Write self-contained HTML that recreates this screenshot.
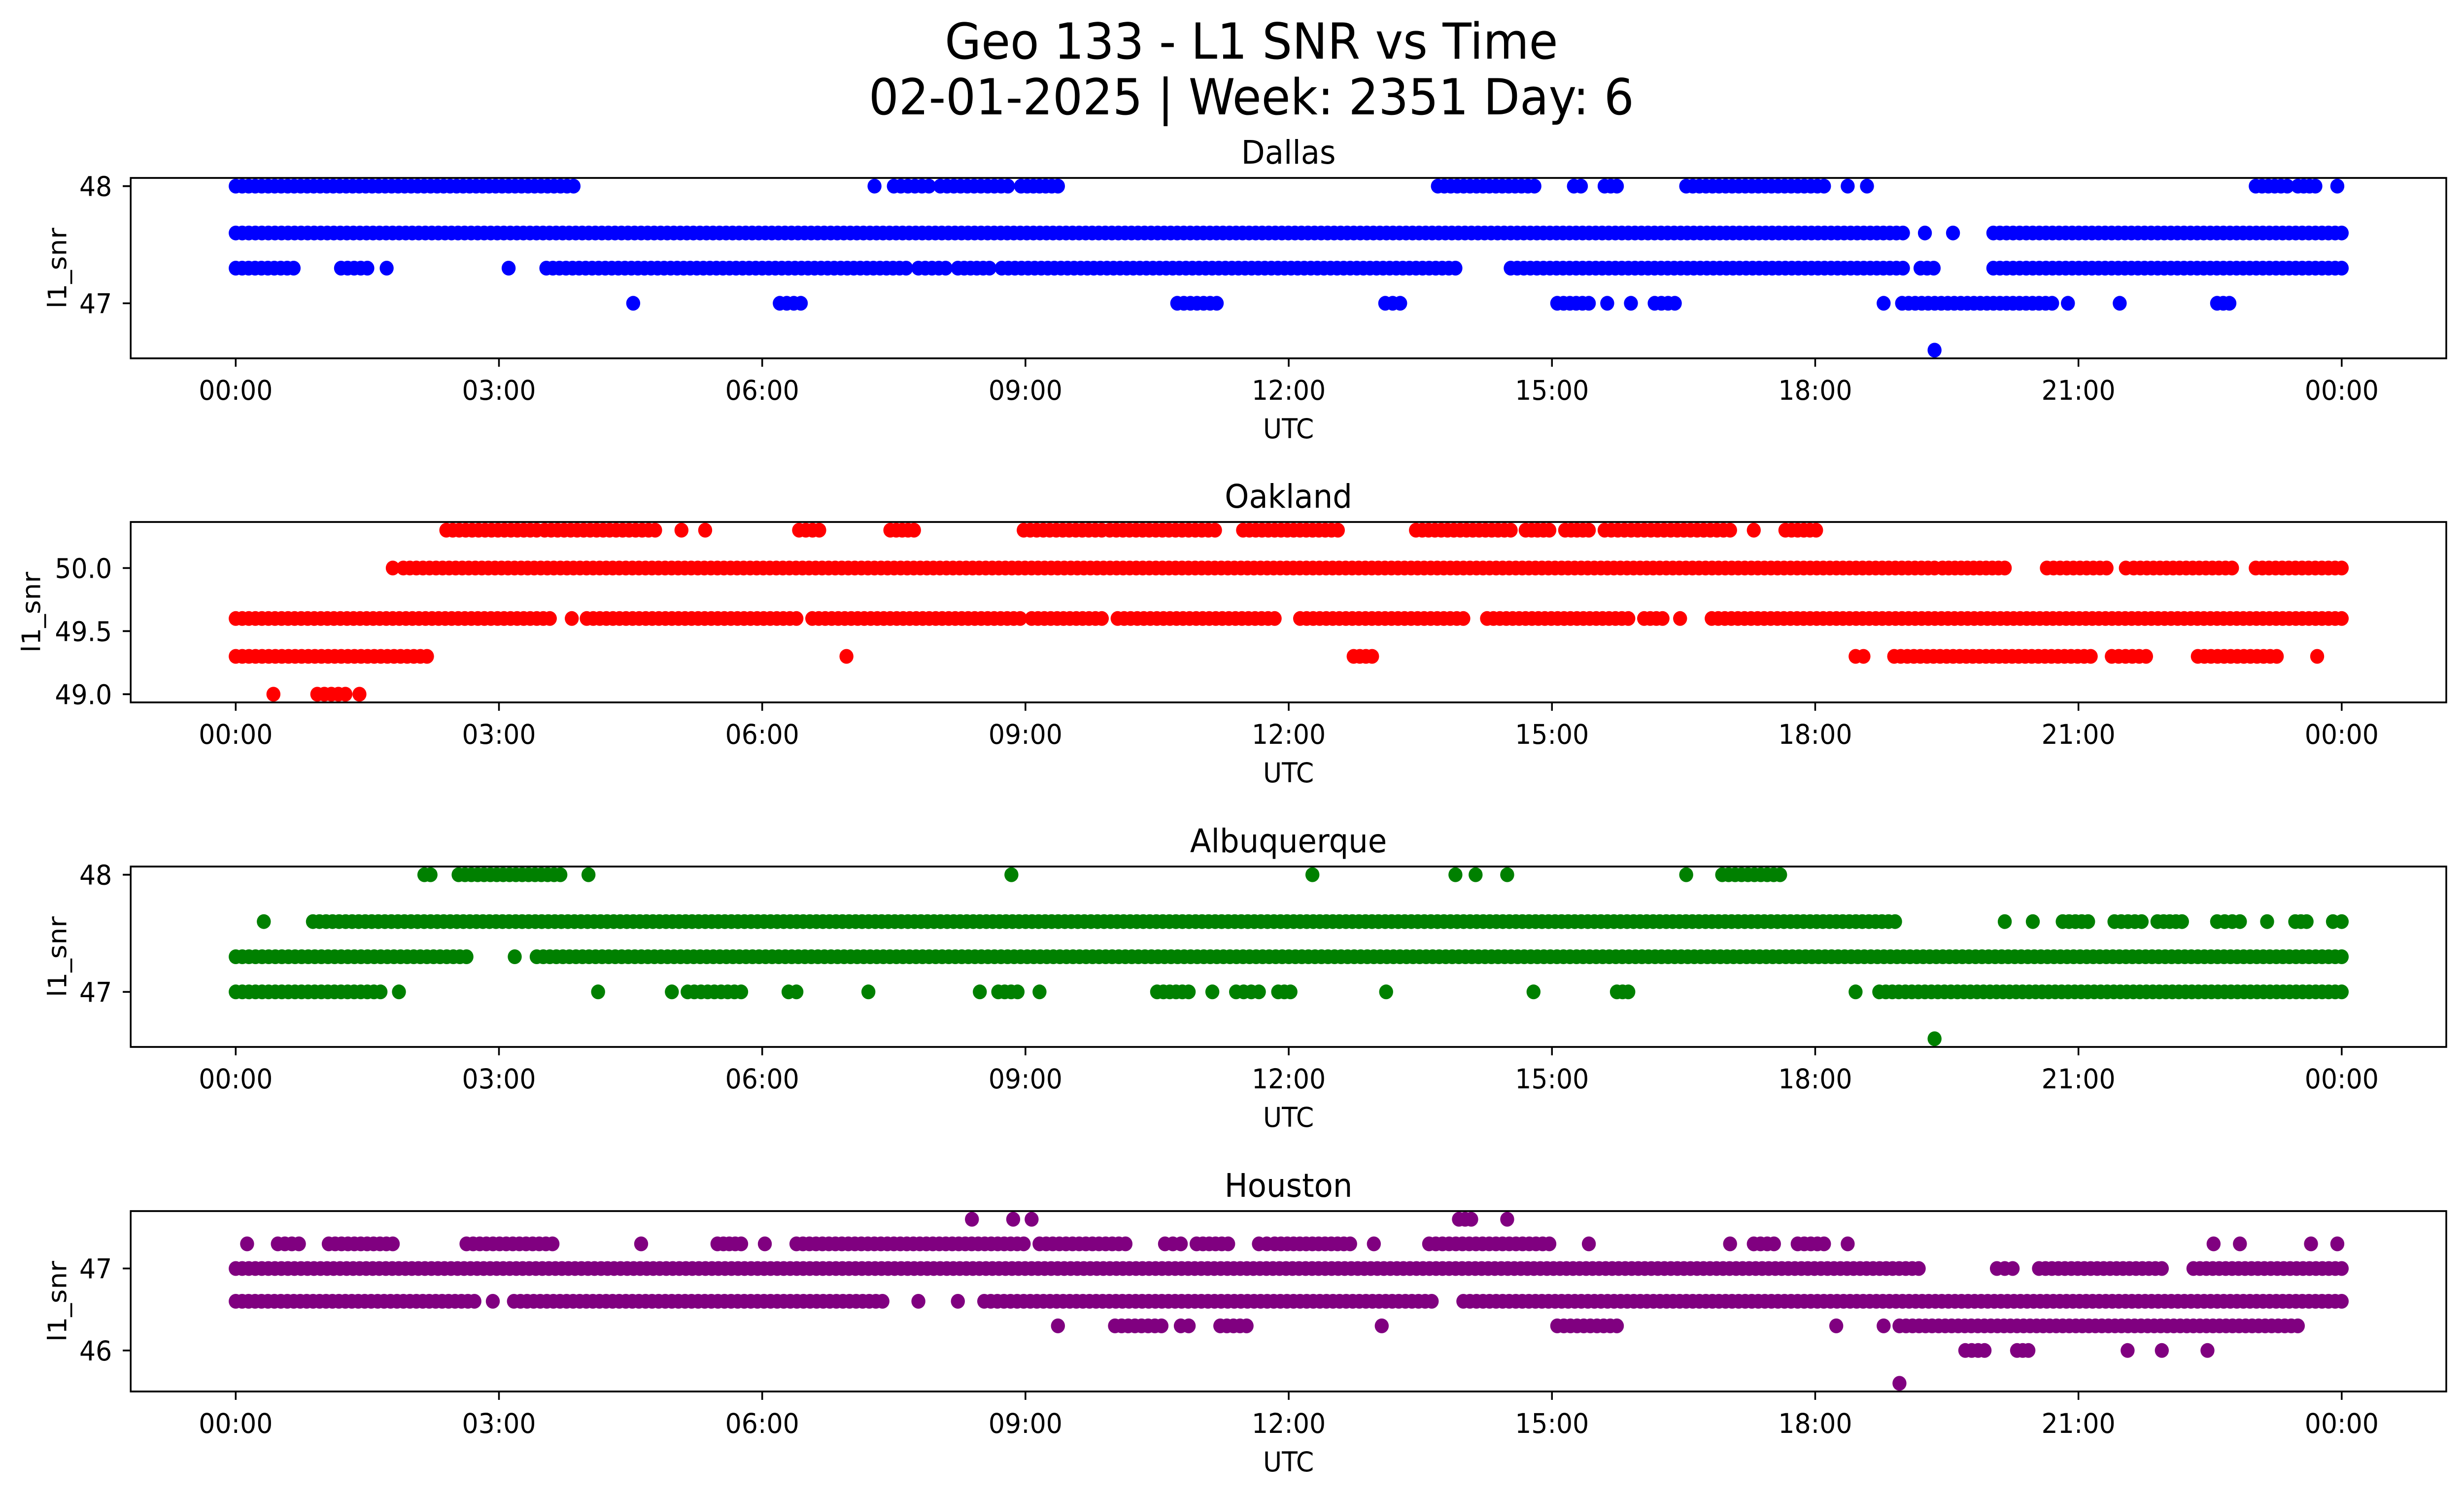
<!DOCTYPE html>
<html><head><meta charset="utf-8"><style>
html,body{margin:0;padding:0;background:#fff;width:100vw;height:100vh;overflow:hidden;}
svg{display:block;width:100vw;height:100vh;font-family:"DejaVu Sans","Liberation Sans",sans-serif;}
</style></head><body>
<svg id="fig" viewBox="0 0 5279 3033" preserveAspectRatio="none" xmlns="http://www.w3.org/2000/svg">
<rect width="5279" height="3033" fill="#fff"/>
<text x="2681" y="119" font-size="101" text-anchor="middle">Geo 133 - L1 SNR vs Time</text>
<text x="2681" y="232" font-size="101" text-anchor="middle">02-01-2025 | Week: 2351 Day: 6</text>
<g id="panels"></g>
</svg>
<script>
// Time axis ticks (hours) and labels
const xTickHours = [0,3,6,9,12,15,18,21,24];
const xTickLabels = ["00:00","03:00","06:00","09:00","12:00","15:00","18:00","21:00","00:00"];
const panelNames = ["Dallas","Oakland","Albuquerque","Houston"];
const panelColors = ["#0000ff","#ff0000","#008000","#800080"];
// y ranges per panel
const yMins = [46.53, 48.935, 46.53, 45.5];
const yMaxs = [48.07, 50.365, 48.07, 47.7];
const yTicksDallas = [47,48];
const yTicksOakland = [49.0,49.5,50.0];
const yTicksAlbuquerque = [47,48];
const yTicksHouston = [46,47];
const yTickLabelsDallas = ["47","48"];
const yTickLabelsOakland = ["49.0","49.5","50.0"];
const yTickLabelsAlbuquerque = ["47","48"];
const yTickLabelsHouston = ["46","47"];

// Observation runs per SNR level: [level, startHour, endHour]
const dallasRuns = [
[48,0,3.85],[48,7.28,7.28],[48,7.5,7.9],[48,8.03,8.8],[48,8.95,9.37],[48,13.7,14.8],[48,15.25,15.33],[48,15.6,15.74],[48,16.53,18.1],[48,18.37,18.37],[48,18.59,18.59],[48,23.02,23.38],[48,23.5,23.7],[48,23.95,23.95],
[47.6,0,19.0],[47.6,19.25,19.25],[47.6,19.57,19.57],[47.6,20.03,24],
[47.3,0,0.66],[47.3,1.2,1.5],[47.3,1.72,1.72],[47.3,3.11,3.11],[47.3,3.54,7.64],[47.3,7.78,8.09],[47.3,8.23,8.59],[47.3,8.73,13.9],[47.3,14.53,19.0],[47.3,19.2,19.35],[47.3,20.03,24],
[47,4.53,4.53],[47,6.2,6.44],[47,10.73,11.18],[47,13.1,13.27],[47,15.06,15.42],[47,15.63,15.63],[47,15.9,15.9],[47,16.17,16.4],[47,18.78,18.78],[47,18.99,20.7],[47,20.88,20.88],[47,21.47,21.47],[47,22.58,22.72],
[46.6,19.36,19.36]];
const oaklandRuns = [
[50.3,2.4,3.43],[50.3,3.52,4.78],[50.3,5.08,5.08],[50.3,5.35,5.35],[50.3,6.42,6.65],[50.3,7.46,7.73],[50.3,8.98,9.87],[50.3,9.96,11.16],[50.3,11.48,12.56],[50.3,13.45,14.53],[50.3,14.7,14.97],[50.3,15.15,15.42],[50.3,15.6,17.03],[50.3,17.3,17.3],[50.3,17.66,18.01],
[50,1.79,1.79],[50,1.91,19.36],[50,19.45,20.16],[50,20.64,21.32],[50,21.54,21.54],[50,21.63,22.75],[50,23.02,24],
[49.6,0,3.58],[49.6,3.83,3.83],[49.6,4.0,6.39],[49.6,6.57,8.94],[49.6,9.07,9.87],[49.6,10.05,11.84],[49.6,12.13,13.99],[49.6,14.26,15.87],[49.6,16.05,16.26],[49.6,16.46,16.46],[49.6,16.82,24],
[49.3,0,2.18],[49.3,6.96,6.96],[49.3,12.74,12.95],[49.3,18.46,18.55],[49.3,18.9,21.14],[49.3,21.38,21.77],[49.3,22.36,23.26],[49.3,23.72,23.72],
[49,0.43,0.43],[49,0.93,1.25],[49,1.41,1.41]];
const albuquerqueRuns = [
[48,2.15,2.22],[48,2.54,3.7],[48,4.02,4.02],[48,8.84,8.84],[48,12.27,12.27],[48,13.9,13.9],[48,14.13,14.13],[48,14.49,14.49],[48,16.53,16.53],[48,16.94,17.6],
[47.6,0.32,0.32],[47.6,0.88,18.91],[47.6,20.16,20.16],[47.6,20.48,20.48],[47.6,20.82,21.11],[47.6,21.41,21.72],[47.6,21.9,22.18],[47.6,22.58,22.84],[47.6,23.15,23.15],[47.6,23.47,23.6],[47.6,23.9,24],
[47.3,0,2.63],[47.3,3.18,3.18],[47.3,3.43,24],
[47,0,1.65],[47,1.86,1.86],[47,4.13,4.13],[47,4.97,4.97],[47,5.15,5.76],[47,6.3,6.39],[47,7.21,7.21],[47,8.48,8.48],[47,8.69,8.91],[47,9.16,9.16],[47,10.5,10.86],[47,11.13,11.13],[47,11.4,11.66],[47,11.88,12.02],[47,13.11,13.11],[47,14.79,14.79],[47,15.74,15.87],[47,18.46,18.46],[47,18.73,24],
[46.6,19.36,19.36]];
const houstonRuns = [
[47.6,8.39,8.39],[47.6,8.86,8.86],[47.6,9.07,9.07],[47.6,13.94,14.08],[47.6,14.49,14.49],
[47.3,0.13,0.13],[47.3,0.48,0.72],[47.3,1.06,1.79],[47.3,2.63,3.61],[47.3,4.62,4.62],[47.3,5.49,5.76],[47.3,6.03,6.03],[47.3,6.39,8.98],[47.3,9.16,10.14],[47.3,10.59,10.77],[47.3,10.95,11.31],[47.3,11.66,11.75],[47.3,11.84,12.7],[47.3,12.97,12.97],[47.3,13.6,14.97],[47.3,15.42,15.42],[47.3,17.03,17.03],[47.3,17.3,17.53],[47.3,17.8,18.1],[47.3,18.37,18.37],[47.3,22.54,22.54],[47.3,22.84,22.84],[47.3,23.65,23.65],[47.3,23.95,23.95],
[47,0,19.18],[47,20.07,20.25],[47,20.55,21.95],[47,22.31,24],
[46.6,0,2.72],[46.6,2.93,2.93],[46.6,3.17,7.37],[46.6,7.78,7.78],[46.6,8.23,8.23],[46.6,8.53,13.63],[46.6,13.99,24],
[46.3,9.37,9.37],[46.3,10.02,10.55],[46.3,10.77,10.86],[46.3,11.22,11.52],[46.3,13.06,13.06],[46.3,15.06,15.74],[46.3,18.24,18.24],[46.3,18.78,18.78],[46.3,18.96,23.5],
[46,19.71,19.93],[46,20.3,20.43],[46,21.56,21.56],[46,21.95,21.95],[46,22.47,22.47],
[45.6,18.96,18.96]];

const allRuns = [dallasRuns, oaklandRuns, albuquerqueRuns, houstonRuns];
const allYTicks = [yTicksDallas, yTicksOakland, yTicksAlbuquerque, yTicksHouston];
const allYTickLabels = [yTickLabelsDallas, yTickLabelsOakland, yTickLabelsAlbuquerque, yTickLabelsHouston];

const NS = "http://www.w3.org/2000/svg";
const AX_L = 280, AX_R = 5241, AX_H = 366;
const panelTops = [361, 1059, 1758, 2457];
const X0 = 505, X24 = 5017;
function xScale(h){ return X0 + (X24 - X0) * h / 24; }
function mk(tag, attrs, parent){
  const e = document.createElementNS(NS, tag);
  for (const k in attrs) e.setAttribute(k, attrs[k]);
  parent.appendChild(e); return e;
}
const root = document.getElementById("panels");
for (let p = 0; p < 4; p++) {
  const top = panelTops[p], bot = top + AX_H;
  const yMin = yMins[p], yMax = yMaxs[p];
  const yScale = v => bot - (v - yMin) / (yMax - yMin) * AX_H;
  const g = mk("g", {}, root);
  
  
  const pts = mk("g", {fill: panelColors[p]}, g);
  
  
  for (const r of allRuns[p]) {
    const y = yScale(r[0]);
    const x1 = xScale(r[1]), x2 = xScale(r[2]);
    const n = Math.max(1, Math.round((x2 - x1) / 14));
    for (let i = 0; i <= n; i++) {
      const x = r[2] === r[1] ? x1 : x1 + (x2 - x1) * i / n;
      const c = mk("circle", {cx: x.toFixed(1), cy: y.toFixed(1), r: 15}, pts);
      
      
      if (r[2] === r[1]) break;
    }
  }
  const fr = mk("rect", {x: AX_L, y: top, width: AX_R - AX_L, height: AX_H, fill: "none", stroke: "#000", "stroke-width": 3.7}, g);
  
  
  for (let i = 0; i < xTickHours.length; i++) {
    const x = xScale(xTickHours[i]);
    const t = mk("line", {x1: x, x2: x, y1: bot, y2: bot + 17, stroke: "#000", "stroke-width": 3.7}, g);
    
    
    const tl = mk("text", {x: x, y: bot + 84, "font-size": 55, "text-anchor": "middle"}, g);
    tl.textContent = xTickLabels[i];
    
    
  }
  const yt = allYTicks[p], ytl = allYTickLabels[p];
  for (let i = 0; i < yt.length; i++) {
    const y = yScale(yt[i]);
    const t = mk("line", {x1: AX_L - 17, x2: AX_L, y1: y, y2: y, stroke: "#000", "stroke-width": 3.7}, g);
    
    
    const tl = mk("text", {x: AX_L - 40, y: y + 20, "font-size": 55, "text-anchor": "end"}, g);
    tl.textContent = ytl[i];
    
    
  }
  const xl = mk("text", {x: (AX_L + AX_R) / 2, y: bot + 162, "font-size": 55, "text-anchor": "middle"}, g);
  xl.textContent = "UTC";
  
  
  const ylx = (p === 1) ? 86 : 142;
  const yl = mk("text", {x: ylx, y: top + AX_H / 2, "font-size": 55, "text-anchor": "middle", transform: "rotate(-90 " + ylx + " " + (top + AX_H / 2) + ")"}, g);
  yl.textContent = "l1_snr";
  
  
  const tt = mk("text", {x: (AX_L + AX_R) / 2, y: top - 29, "font-size": 66, "text-anchor": "middle"}, g);
  tt.textContent = panelNames[p];
  
  
}
</script>
</body></html>
